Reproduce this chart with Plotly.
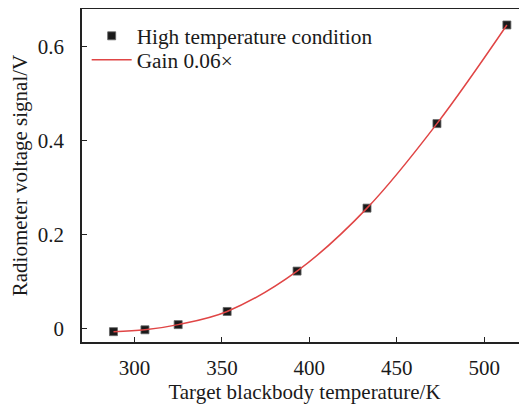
import plotly.graph_objects as go

temperature_K = [288, 306, 325, 353, 393, 433, 473, 513]
voltage_V = [-0.007, -0.003, 0.008, 0.036, 0.122, 0.256, 0.436, 0.646]
x_ticks = [300, 350, 400, 450, 500]
y_ticks = [0, 0.2, 0.4, 0.6]
y_tick_labels = ["0", "0.2", "0.4", "0.6"]

font_family = "Liberation Serif, Times New Roman, serif"

fig = go.Figure()
fig.add_trace(go.Scatter(
    x=temperature_K, y=voltage_V, mode="markers",
    name="High temperature condition", legend="legend",
    marker=dict(symbol="square", size=8, color="#1a1a1a",
                line=dict(color="#666666", width=0.8)),
))
fig.add_trace(go.Scatter(
    x=temperature_K, y=voltage_V, mode="lines",
    name="Gain 0.06×", legend="legend2",
    line=dict(color="#e04545", width=1.5, shape="spline", smoothing=1.0),
))

legend_style = dict(xanchor="left", yanchor="middle",
                    bgcolor="rgba(0,0,0,0)", font=dict(size=21.3),
                    itemwidth=40)

fig.update_layout(
    width=527, height=404,
    margin=dict(l=74, r=8, t=1, b=70),
    paper_bgcolor="white", plot_bgcolor="white",
    font=dict(family=font_family, size=21, color="#1a1a1a"),
    showlegend=True,
    legend=dict(x=0.0105, y=0.919, **legend_style),
    legend2=dict(x=0.0105, y=0.847, **legend_style),
)
fig.update_xaxes(
    range=[270, 524.5], tickvals=x_ticks, automargin=False,
    ticks="inside", ticklen=5, tickwidth=1, tickcolor="#222222",
    showline=True, linecolor="#222222", linewidth=1.5, mirror=True,
    showgrid=False, zeroline=False,
    ticklabelstandoff=6,
    title=dict(text="Target blackbody temperature/K", standoff=4, font=dict(size=21)),
)
fig.update_yaxes(
    range=[-0.029, 0.68], tickvals=y_ticks, ticktext=y_tick_labels, automargin=False,
    ticks="inside", ticklen=5, tickwidth=1, tickcolor="#222222",
    showline=True, linecolor="#222222", linewidth=1.5, mirror=False,
    showgrid=False, zeroline=False,
    ticklabelstandoff=12,
    title=dict(text="Radiometer voltage signal/V", standoff=8, font=dict(size=21)),
)

fig.write_html("out.html")
